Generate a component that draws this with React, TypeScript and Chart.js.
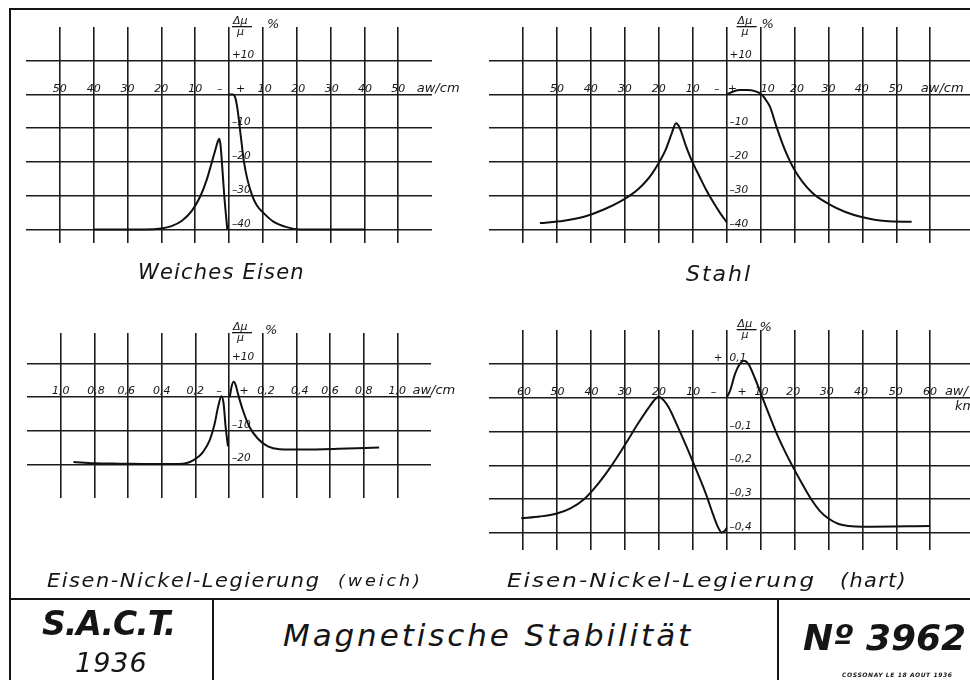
import React, { useEffect, useRef } from "react";
import { Chart, registerables } from "chart.js";

Chart.register(...registerables);

// ---------------- DATA ----------------
// Weiches Eisen (aw/cm, Δμ/μ %)
const weichNegX = [-40, -25, -20, -17, -14, -11, -8.4, -6.5, -5.2, -4.0, -3.3, -2.9, -2.5, -2.1, -1.4, -0.5];
const weichNegY = [-40, -40, -39.7, -39, -37.5, -34.5, -30, -25, -20.5, -16.3, -13.9, -13.1, -15, -20, -30, -40];
const weichPosX = [0, 1.2, 1.8, 2.3, 2.8, 3.2, 3.8, 4.4, 5.4, 6.8, 8.2, 10.4, 13, 17, 21, 30, 40];
const weichPosY = [0, 0, -0.8, -3, -6.5, -10, -15, -19.8, -25, -29.8, -32.8, -35.3, -37.6, -39.3, -40, -40, -40];

// Stahl
const stahlNegX = [-55, -48, -42, -36, -31, -28, -26, -24, -22, -20, -18, -16.2, -14.9, -14.0, -12, -10.3, -8, -6, -4, -2, 0];
const stahlNegY = [-38.1, -37.4, -36.2, -34.0, -31.5, -29.6, -28, -26, -23.5, -20.3, -16.5, -11.6, -8.5, -9.5, -15.2, -19.5, -24.3, -28.3, -31.8, -35, -37.8];
const stahlPosX = [0, 2, 4, 6, 8.3, 10.3, 11.5, 12.8, 14.7, 17.2, 20.1, 25, 30, 35, 39.8, 46.7, 54.5];
const stahlPosY = [0, 0.9, 1.3, 1.3, 1.0, 0, -1.5, -3.7, -9.6, -16.5, -22.5, -28.9, -32.4, -34.8, -36.3, -37.5, -37.7];

// Eisen-Nickel-Legierung (weich)
const niWeichNegX = [-0.924, -0.8, -0.65, -0.45, -0.3, -0.25, -0.213, -0.18, -0.154, -0.115, -0.085, -0.065, -0.045, -0.032, -0.02, -0.006];
const niWeichNegY = [-19.3, -19.7, -19.8, -19.9, -19.9, -19.6, -18.8, -17.7, -16.3, -12.9, -7.9, -3, 0.2, -2, -8.9, -14.7];
const niWeichPosX = [0.005, 0.015, 0.028, 0.04, 0.053, 0.083, 0.122, 0.172, 0.231, 0.3, 0.438, 0.65, 0.892];
const niWeichPosY = [0, 3, 4.5, 3.5, 1, -4, -8.9, -12.4, -14.7, -15.5, -15.6, -15.4, -15.0];

// Eisen-Nickel-Legierung (hart)
const niHartNegX = [-60.5, -55, -50, -46, -42, -38, -34, -30, -26, -23, -21, -20, -18.5, -17, -15, -12, -9, -6, -4, -2.5, -1.5, -0.5, 0];
const niHartNegY = [-0.356, -0.351, -0.342, -0.327, -0.3, -0.256, -0.202, -0.14, -0.075, -0.03, -0.004, 0.003, -0.008, -0.03, -0.072, -0.14, -0.212, -0.287, -0.345, -0.383, -0.398, -0.393, -0.385];
const niHartPosX = [0, 1, 2.5, 3.9, 5.1, 6.4, 8.4, 10.3, 12.5, 14.5, 17, 19.3, 22, 24.6, 27.5, 30, 33, 36, 40, 60];
const niHartPosY = [0, 0.02, 0.071, 0.1, 0.109, 0.1, 0.056, 0.007, -0.05, -0.1, -0.155, -0.2, -0.25, -0.295, -0.335, -0.357, -0.373, -0.379, -0.381, -0.379];

// Grid values
const gridAw50 = [-50, -40, -30, -20, -10, 0, 10, 20, 30, 40, 50];
const gridAw60 = [-60, -50, -40, -30, -20, -10, 0, 10, 20, 30, 40, 50, 60];
const gridAwFine = [-1, -0.8, -0.6, -0.4, -0.2, 0, 0.2, 0.4, 0.6, 0.8, 1];
const gridPct40 = [10, 0, -10, -20, -30, -40];
const gridPct20 = [10, 0, -10, -20];
const gridPctHart = [0.1, 0, -0.1, -0.2, -0.3, -0.4];

// Tick labels
const weichXLabelAt = [-50, -40, -30, -20, -10, -2.7, 3.4, 10.6, 20.5, 30.4, 40.2, 50];
const weichXLabels = ["50", "40", "30", "20", "10", "–", "+", "10", "20", "30", "40", "50"];
const stahlXLabelAt = [-50, -40, -30, -20, -10, -2.9, 1.7, 12.1, 20.7, 30, 39.8, 49.8];
const stahlXLabels = ["50", "40", "30", "20", "10", "–", "+", "10", "20", "30", "40", "50"];
const pct40YLabelAt = [10, -10, -20, -30, -40];
const pct40YLabels = ["+10", "–10", "–20", "–30", "–40"];
const niWeichXLabelAt = [-1, -0.79, -0.61, -0.4, -0.2, -0.06, 0.09, 0.22, 0.42, 0.6, 0.8, 1.0];
const niWeichXLabels = ["1,0", "0,8", "0,6", "0,4", "0,2", "–", "+", "0,2", "0,4", "0,6", "0,8", "1,0"];
const pct20YLabelAt = [10, -10, -20];
const pct20YLabels = ["+10", "–10", "–20"];
const niHartXLabelAt = [-59.7, -49.8, -39.8, -30, -19.9, -9.8, -3.9, 4.6, 10.3, 19.6, 29.5, 39.6, 49.8, 59.9];
const niHartXLabels = ["60", "50", "40", "30", "20", "10", "–", "+", "10", "20", "30", "40", "50", "60"];
const hartYLabelAt = [0.1, -0.1, -0.2, -0.3, -0.4];
const hartYLabels = ["0,1", "–0,1", "–0,2", "–0,3", "–0,4"];
const hartYLeftLabels = ["+", "", "", "", ""];

// ---------------- STYLE ----------------
const INK = "#151515";
const FONT = '"DejaVu Sans", sans-serif';

type LabelCfg = {
  xAt: number[];
  xText: string[];
  yAt: number[];
  yText: string[];
  yLeft?: string[];
  unit: string;
  unitAt: number;
  unit2?: string;
  unit2At?: number;
  fracDx: number;
  pctDx: number;
};

function makeLabelPlugin(cfg: LabelCfg) {
  return {
    id: "sheetLabels",
    afterDatasetsDraw(chart: any) {
      const { ctx, chartArea, scales } = chart;
      const xs = scales.x;
      const ys = scales.y;
      const x0 = xs.getPixelForValue(0);
      const y0 = ys.getPixelForValue(0);
      ctx.save();
      ctx.fillStyle = INK;
      ctx.textBaseline = "alphabetic";
      ctx.font = `italic 11px ${FONT}`;
      ctx.textAlign = "center";
      cfg.xAt.forEach((v, i) => ctx.fillText(cfg.xText[i], xs.getPixelForValue(v), y0 - 3));
      ctx.textAlign = "left";
      ctx.font = `italic 13px ${FONT}`;
      ctx.fillText(cfg.unit, xs.getPixelForValue(cfg.unitAt), y0 - 3);
      if (cfg.unit2 && cfg.unit2At !== undefined) {
        ctx.fillText(cfg.unit2, xs.getPixelForValue(cfg.unit2At), y0 + 12);
      }
      ctx.font = `italic 10.5px ${FONT}`;
      cfg.yAt.forEach((v, i) => {
        const py = ys.getPixelForValue(v) - 3;
        ctx.textAlign = "left";
        ctx.fillText(cfg.yText[i], x0 + 3, py);
        if (cfg.yLeft && cfg.yLeft[i]) {
          ctx.textAlign = "right";
          ctx.fillText(cfg.yLeft[i], x0 - 4, py);
        }
      });
      // Δμ/μ %
      const fx = x0 + cfg.fracDx;
      const top = chartArea.top;
      ctx.textAlign = "left";
      ctx.font = `italic 11px ${FONT}`;
      ctx.fillText("Δμ", fx, top - 3);
      ctx.fillRect(fx - 1, top - 1, 20, 1.3);
      ctx.fillText("μ", fx + 4, top + 8);
      ctx.font = `italic 13px ${FONT}`;
      ctx.fillText("%", x0 + cfg.pctDx, top + 1);
      ctx.restore();
    },
  };
}

const zip = (xs: number[], ys: number[]) => xs.map((x, i) => ({ x, y: ys[i] }));

type Panel = {
  canvas: [number, number, number, number];
  area: [number, number, number, number];
  xMin: number;
  xMax: number;
  yMin: number;
  yMax: number;
  xGrid: number[];
  yGrid: number[];
  neg: { x: number; y: number }[];
  pos: { x: number; y: number }[];
  labels: LabelCfg;
};

const panels: Panel[] = [
  {
    canvas: [0, 0, 485, 300],
    area: [26, 27, 432, 243],
    xMin: -60, xMax: 60, yMin: -44, yMax: 20,
    xGrid: gridAw50, yGrid: gridPct40,
    neg: zip(weichNegX, weichNegY), pos: zip(weichPosX, weichPosY),
    labels: { xAt: weichXLabelAt, xText: weichXLabels, yAt: pct40YLabelAt, yText: pct40YLabels, unit: "aw/cm", unitAt: 55.5, fracDx: 4, pctDx: 38 },
  },
  {
    canvas: [485, 0, 485, 300],
    area: [489, 27, 970, 243],
    xMin: -70, xMax: 71.7, yMin: -44, yMax: 20,
    xGrid: gridAw60, yGrid: gridPct40,
    neg: zip(stahlNegX, stahlNegY), pos: zip(stahlPosX, stahlPosY),
    labels: { xAt: stahlXLabelAt, xText: stahlXLabels, yAt: pct40YLabelAt, yText: pct40YLabels, unit: "aw/cm", unitAt: 57.2, fracDx: 11, pctDx: 35 },
  },
  {
    canvas: [0, 300, 485, 300],
    area: [27, 333, 431, 498],
    xMin: -1.2, xMax: 1.2, yMin: -30, yMax: 19,
    xGrid: gridAwFine, yGrid: gridPct20,
    neg: zip(niWeichNegX, niWeichNegY), pos: zip(niWeichPosX, niWeichPosY),
    labels: { xAt: niWeichXLabelAt, xText: niWeichXLabels, yAt: pct20YLabelAt, yText: pct20YLabels, unit: "aw/cm", unitAt: 1.09, fracDx: 4, pctDx: 36 },
  },
  {
    canvas: [485, 300, 485, 300],
    area: [489, 330, 970, 550],
    xMin: -70, xMax: 71.7, yMin: -0.45, yMax: 0.2,
    xGrid: gridAw60, yGrid: gridPctHart,
    neg: zip(niHartNegX, niHartNegY), pos: zip(niHartPosX, niHartPosY),
    labels: { xAt: niHartXLabelAt, xText: niHartXLabels, yAt: hartYLabelAt, yText: hartYLabels, yLeft: hartYLeftLabels, unit: "aw/", unitAt: 64.3, unit2: "km", unit2At: 67.3, fracDx: 11, pctDx: 33 },
  },
];

function PanelChart({ p }: { p: Panel }) {
  const ref = useRef<HTMLCanvasElement | null>(null);
  useEffect(() => {
    if (!ref.current) return;
    const [cl, ct, cw, ch] = p.canvas;
    const [al, at, ar, ab] = p.area;
    const lineStyle = {
      borderColor: "#101010",
      borderWidth: 2,
      pointRadius: 0,
      tension: 0.4,
      cubicInterpolationMode: "monotone" as const,
      fill: false,
    };
    const axisCommon = {
      type: "linear" as const,
      ticks: { display: false },
      grid: { color: "#1c1c1c", lineWidth: 1.6, drawTicks: false },
      border: { display: false },
    };
    const chart = new Chart(ref.current, {
      type: "line",
      data: {
        datasets: [
          { data: p.neg, ...lineStyle },
          { data: p.pos, ...lineStyle },
        ],
      },
      options: {
        animation: false,
        responsive: false,
        maintainAspectRatio: false,
        events: [],
        layout: { padding: { left: al - cl, top: at - ct, right: cl + cw - ar, bottom: ct + ch - ab } },
        plugins: { legend: { display: false }, tooltip: { enabled: false } },
        scales: {
          x: {
            ...axisCommon,
            min: p.xMin,
            max: p.xMax,
            afterBuildTicks: (s: any) => {
              s.ticks = p.xGrid.map((v) => ({ value: v }));
            },
          },
          y: {
            ...axisCommon,
            min: p.yMin,
            max: p.yMax,
            afterBuildTicks: (s: any) => {
              s.ticks = p.yGrid.map((v) => ({ value: v }));
            },
          },
        },
      } as any,
      plugins: [makeLabelPlugin(p.labels)],
    });
    return () => chart.destroy();
  }, [p]);
  const [cl, ct, cw, ch] = p.canvas;
  return (
    <canvas
      ref={ref}
      width={cw}
      height={ch}
      style={{ position: "absolute", left: cl, top: ct, width: cw, height: ch }}
    />
  );
}

function Txt({
  children,
  left,
  baseline,
  size,
  bold,
  spacing,
  sx,
}: {
  children: React.ReactNode;
  left: number;
  baseline: number;
  size: number;
  bold?: boolean;
  spacing?: number;
  sx?: number;
}) {
  return (
    <div
      style={{
        position: "absolute",
        left,
        top: baseline - 0.846 * size,
        fontSize: size,
        lineHeight: `${size}px`,
        fontFamily: FONT,
        fontStyle: "italic",
        fontWeight: bold ? 700 : 400,
        letterSpacing: spacing ?? 0,
        color: INK,
        whiteSpace: "nowrap",
        transform: sx ? `scaleX(${sx})` : undefined,
        transformOrigin: "left top",
      }}
    >
      {children}
    </div>
  );
}

const Line = ({ l, t, w, h }: { l: number; t: number; w: number; h: number }) => (
  <div style={{ position: "absolute", left: l, top: t, width: w, height: h, background: INK }} />
);

export default function App() {
  return (
    <div style={{ position: "absolute", left: 0, top: 0, width: 970, height: 680, background: "#fff", overflow: "hidden" }}>
      {panels.map((p, i) => (
        <PanelChart key={i} p={p} />
      ))}
      {/* frame */}
      <Line l={9} t={8} w={961} h={2} />
      <Line l={9} t={8} w={2} h={672} />
      <Line l={9} t={598} w={961} h={2} />
      <Line l={212} t={598} w={2} h={82} />
      <Line l={777} t={598} w={2} h={82} />

      {/* captions */}
      <Txt left={138} baseline={280} size={21} spacing={1.2}>Weiches Eisen</Txt>
      <Txt left={686} baseline={282} size={22} spacing={2}>Stahl</Txt>
      <Txt left={47} baseline={587} size={19} spacing={1.4} sx={1.1}>Eisen-Nickel-Legierung</Txt>
      <Txt left={338} baseline={587} size={16} spacing={2.6} sx={1.1}>(weich)</Txt>
      <Txt left={507} baseline={587} size={20} spacing={1.8} sx={1.15}>Eisen-Nickel-Legierung</Txt>
      <Txt left={840} baseline={587} size={19} spacing={1.2} sx={1.1}>(hart)</Txt>

      {/* title block */}
      <Txt left={42} baseline={635} size={33} bold spacing={-1}>S.A.C.T.</Txt>
      <Txt left={75} baseline={672} size={27} spacing={1}>1936</Txt>
      <Txt left={283} baseline={646} size={31} spacing={2.9}>Magnetische Stabilität</Txt>
      <Txt left={803} baseline={650} size={36} bold>Nº 3962</Txt>
      <Txt left={842} baseline={677} size={6} bold spacing={0.6}>COSSONAY LE 18 AOUT 1936</Txt>
    </div>
  );
}
